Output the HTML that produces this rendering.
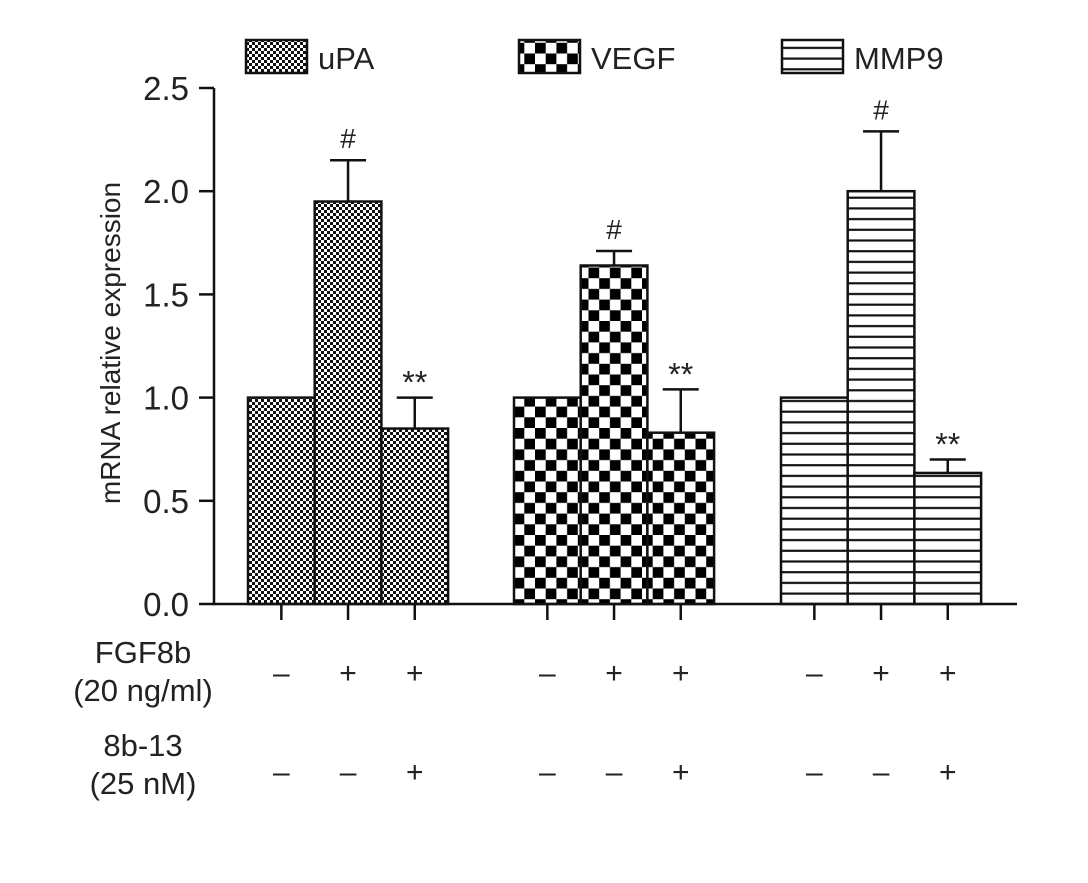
<!DOCTYPE html>
<html><head><meta charset="utf-8"><style>
body{margin:0;background:#fff}
svg text{font-family:"Liberation Sans",Arial,sans-serif;fill:#222}
</style></head><body>
<svg width="1088" height="878" xmlns="http://www.w3.org/2000/svg">
<defs>
<pattern id="pUPA" width="6" height="6" patternUnits="userSpaceOnUse"><rect width="6" height="6" fill="#fff"/><rect width="3" height="3" fill="#111"/><rect x="3" y="3" width="3" height="3" fill="#111"/></pattern>
<pattern id="pVEGF" width="21.4" height="21.4" patternUnits="userSpaceOnUse"><rect width="21.4" height="21.4" fill="#fff"/><rect width="10.7" height="10.7" fill="#000"/><rect x="10.7" y="10.7" width="10.7" height="10.7" fill="#000"/></pattern>
<pattern id="pMMP" width="10.7" height="10.7" patternUnits="userSpaceOnUse"><rect width="10.7" height="10.7" fill="#fff"/><rect y="4" width="10.7" height="2.2" fill="#111"/></pattern>
</defs>
<g id="plot"></g>
</svg>
<script>
const groups=['uPA','VEGF','MMP9'];
const uPA=[1.0,1.95,0.85];
const VEGF=[1.0,1.64,0.83];
const MMP9=[1.0,2.0,0.635];
const uPAErr=[0,0.20,0.15];
const VEGFErr=[0,0.07,0.21];
const MMP9Err=[0,0.29,0.065];
const marks=[['','#','**'],['','#','**'],['','#','**']];
const yTicks=[0,0.5,1.0,1.5,2.0,2.5];
const fgf=['–','+','+'];
const inh=['–','–','+'];
const NS='http://www.w3.org/2000/svg';
const g=document.getElementById('plot');
const y0=604,yScale=206.4,axX=214;
const Y=v=>y0-v*yScale;
const groupStart=[248,514,781],bw=66.7;
const X=(gi,i)=>groupStart[gi]+i*bw;
function el(t,a,txt){const e=document.createElementNS(NS,t);for(const k in a)e.setAttribute(k,a[k]);if(txt!==undefined)e.textContent=txt;g.appendChild(e);return e;}
const series=[uPA,VEGF,MMP9],errs=[uPAErr,VEGFErr,MMP9Err],fills=['url(#pUPA)','url(#pVEGF)','url(#pMMP)'];
series.forEach((s,gi)=>{s.forEach((v,i)=>{
 const x=X(gi,i);
 const r=el('rect',{x:x,y:Y(v),width:bw,height:y0-Y(v),fill:fills[gi],stroke:'#111','stroke-width':2.5});
 
 
 const e=errs[gi][i];
 if(e>0){const cx=x+bw/2;
  const l=el('path',{d:`M${cx} ${Y(v)}V${Y(v+e)}M${cx-18} ${Y(v+e)}H${cx+18}`,stroke:'#111','stroke-width':2.5,fill:'none'});
  
  }
 const m=marks[gi][i];
 if(m){const t=el('text',{x:x+bw/2,y:Y(v+e)-(m=='#'?12:4),'text-anchor':'middle','font-size':m=='#'?28:32,fill:m=='#'?'#222':'#555'},m);
  
  }
 const tk=el('line',{x1:x+bw/2,x2:x+bw/2,y1:y0,y2:y0+16,stroke:'#111','stroke-width':2.5});
 
 
 const a=el('text',{x:x+bw/2,y:683,'text-anchor':'middle','font-size':30},fgf[i]);
 
 
 const b=el('text',{x:x+bw/2,y:782,'text-anchor':'middle','font-size':30},inh[i]);
 
 
});});
const ax=el('path',{d:`M${axX} ${Y(2.5)}V${y0}H1017`,stroke:'#111','stroke-width':2.5,fill:'none'});


yTicks.forEach(v=>{
 const l=el('line',{x1:199,x2:axX,y1:Y(v),y2:Y(v),stroke:'#111','stroke-width':2.5});
 
 
 const t=el('text',{x:189,y:Y(v)+12,'text-anchor':'end','font-size':33},v.toFixed(1));
 
 
});
const yt=el('text',{x:0,y:0,'font-size':28,'text-anchor':'middle',transform:`translate(120,343) rotate(-90)`},'mRNA relative expression');


[['FGF8b',663],['(20 ng/ml)',701],['8b-13',756],['(25 nM)',794]].forEach(([s,yy])=>{
 const t=el('text',{x:143,y:yy,'text-anchor':'middle','font-size':31},s);
 
 
});
const legX=[246,519,782];
groups.forEach((n,i)=>{
 const r=el('rect',{x:legX[i],y:40,width:61,height:33,fill:fills[i],stroke:'#111','stroke-width':2.5});
 
 
 const t=el('text',{x:legX[i]+72,y:69,'font-size':31},n);
 
 
});
</script>
</body></html>
